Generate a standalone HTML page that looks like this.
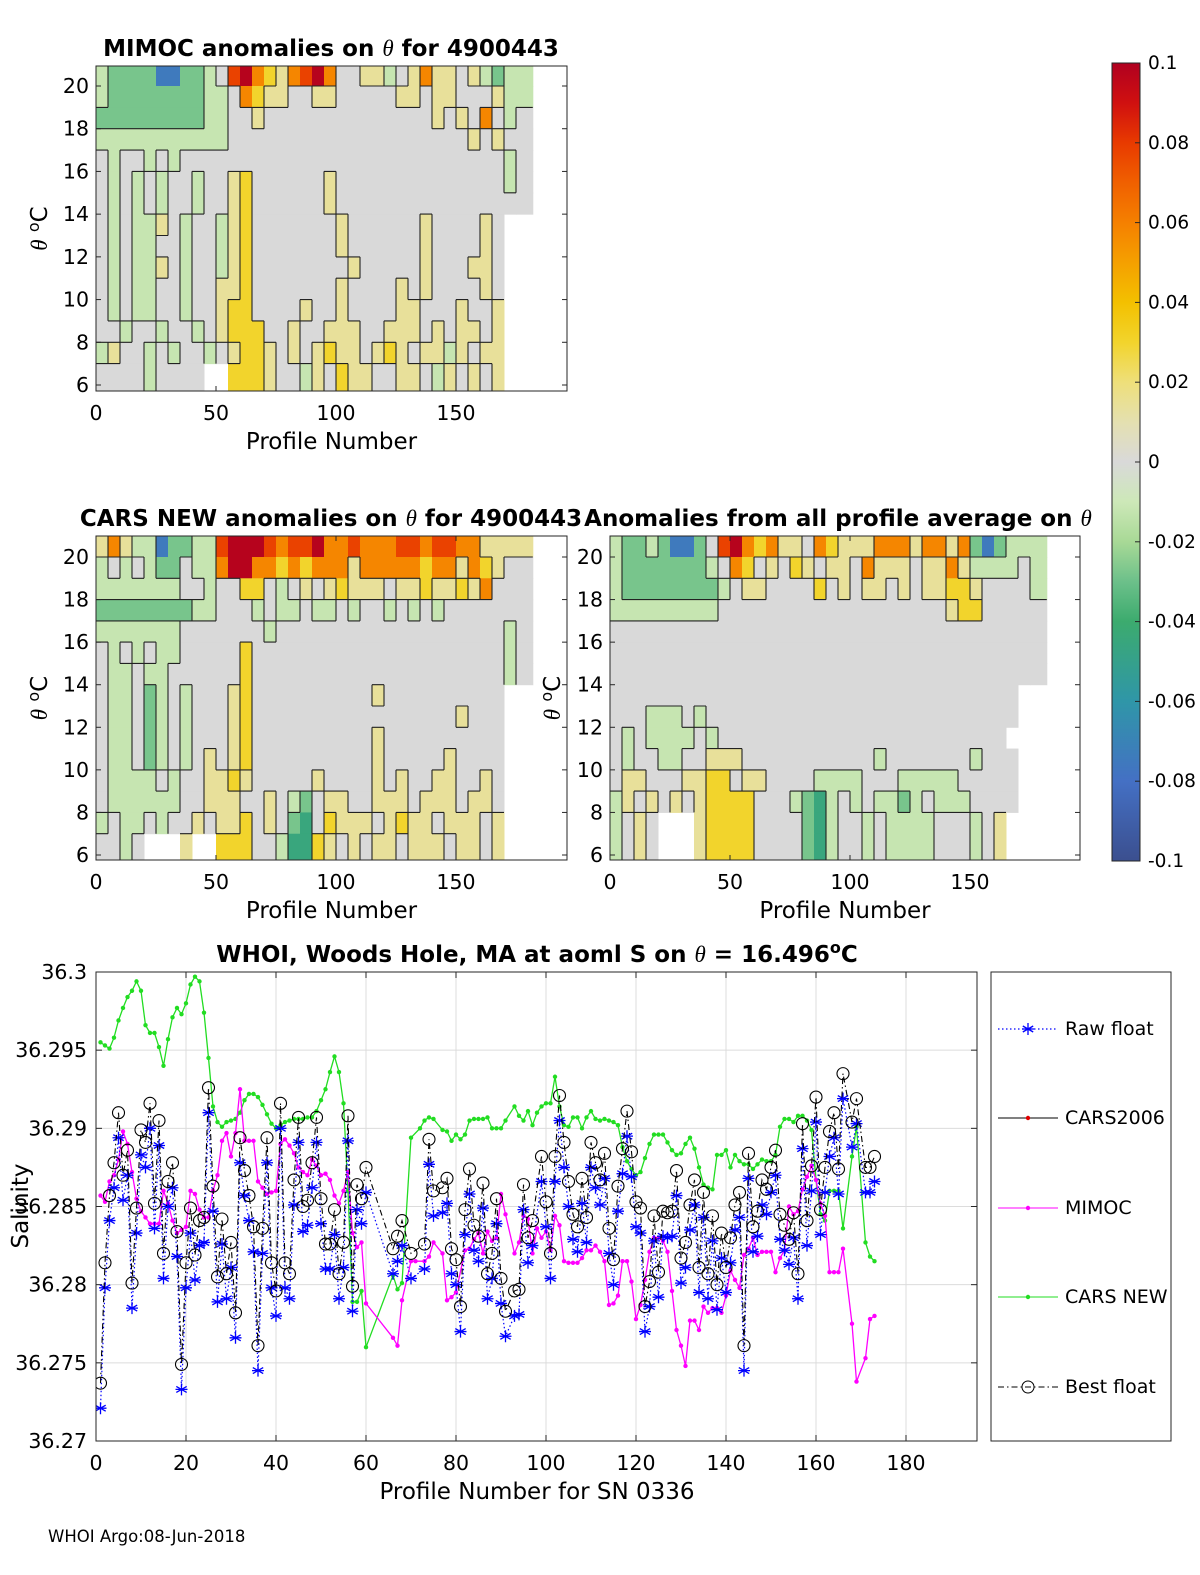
<!DOCTYPE html>
<html><head><meta charset="utf-8"><style>
body{margin:0;background:#fff}
svg{display:block;font-family:"DejaVu Sans","Liberation Sans",sans-serif}
</style></head><body>
<svg id="fig" width="1200" height="1575" viewBox="0 0 1200 1575" xmlns="http://www.w3.org/2000/svg">
<defs>
<linearGradient id="cbar" x1="0" y1="1" x2="0" y2="0">
<stop offset="0" stop-color="#3b4f8f"/><stop offset="0.1" stop-color="#4470c4"/><stop offset="0.2" stop-color="#2f96a8"/><stop offset="0.3" stop-color="#3cab6e"/><stop offset="0.35" stop-color="#6cc08a"/><stop offset="0.4" stop-color="#a8d996"/><stop offset="0.45" stop-color="#cde8b8"/><stop offset="0.5" stop-color="#d9d9d9"/><stop offset="0.55" stop-color="#e4e0b0"/><stop offset="0.6" stop-color="#eedf7a"/><stop offset="0.65" stop-color="#f2d42c"/><stop offset="0.7" stop-color="#f3c000"/><stop offset="0.75" stop-color="#f5a000"/><stop offset="0.8" stop-color="#f58000"/><stop offset="0.85" stop-color="#f06000"/><stop offset="0.9" stop-color="#e83a00"/><stop offset="0.95" stop-color="#d01010"/><stop offset="1" stop-color="#b00020"/>
</linearGradient>
<clipPath id="c1"><rect x="96" y="66" width="471" height="325"/></clipPath>
<clipPath id="c2"><rect x="96" y="536" width="471" height="324"/></clipPath>
<clipPath id="c3"><rect x="610" y="536" width="470" height="324"/></clipPath>
<clipPath id="c4"><rect x="96" y="972" width="881" height="469"/></clipPath>
</defs>
<g id="layer"></g>
</svg>
<script>
// ---------- heatmap data (rows: theta 21->6 in 1°C bands; cols: 5-profile bins) ----------
const levelCodes = ['.', '0', 'l', 'g', 'G', 'B', 'y', 'Y', 'o', 'r', 'R'];
const levelValues = [null, 0, -0.012, -0.028, -0.045, -0.075, 0.014, 0.03, 0.058, 0.078, 0.098];
const mimocRows = [
"lggggBBggl0rRoYyorRo00yyl0yoyy0ylgll",
"lggggggggll0oYyy00yy00000yy0yy000yll",
"gggggggggll00y00000000000000y0y0o0l0",
"lllllllllll00000000000000000000y0y00",
"0l00l0l000000000000000000000000000l0",
"0l0l0l00l00yY000000y00000000000000l0",
"0l0l0l00l00yY000000y0000000000000000",
"0l0lly0l00lyY0000000y000000y0000y0..",
"0l0ll00l00lyY0000000y000000y0000y0..",
"0l0lly0l00lyY00000000y00000y000yy0..",
"0l0ll00l00yyY0000000y0000y0y0000y0..",
"0l0ll00l00yYY0000y00y0000yy000y00y..",
"00l00l00l0yYYY00y00yyy00yyy0y0yy0y..",
"ly00l0l00l0yYYy0y0yYyy0yYy0yyly0yy..",
"0000l0000..YYYy00ly0Yyy00yy0ly0y0y.."];
const carsRows = [
"yoyllBggllrRRRrorrRoorooorrorrooyyyy",
"l0l0lgg0lloRRooYoYoooyoooooYooyoYy00",
"lllllll00l00YY0l0y0yYyyy0yyYyyYyo000",
"ggggggggll000l0ll0ll0l00l0l0l0000000",
"lllllll0000000l0000000000000000000l0",
"0l0l0ll00000Y000000000000000000000l0",
"0ll0ll000000Y000000000000000000000l0",
"0ll0gl0l000yY0000000000y0000000000..",
"0ll0gl0l000yY00000000000000000y000..",
"0ll0gl0l000yY0000000000y0000000000..",
"0ll0gl0l0y0yY0000000000y00000y0000..",
"0llll0l00yyYy00000y0000y0y00yy00y0..",
"0llllll00yyy00y0lg0yy00yyy0yyy0yy0..",
"l0ll0l00y0yyY0y0gG0Yyyy0yYyy0yyy0y..",
"00l0...y..YYY00lGGYy0y0yy0yyy0yy0y.."];
const allAvgRows = [
"lgglgBBg0rRoYoyy0oYyyyoooyooyogBglll",
"lgggggggl0oY0y0Yy0yy0oyyy0yyoyllll0l",
"lggggggggl0yy0000Y0y0yy0y0yyYYy0000l",
"lllllllll0000000000000000000yYY00000",
"000000000000000000000000000000000000",
"000000000000000000000000000000000000",
"000000000000000000000000000000000000",
"0000000000000000000000000000000000..",
"000lll0l00000000000000000000000000..",
"0l0llll0l000000000000000000000000...",
"0l00ll00yyy00000000000l0000000l000..",
"0yy000yyYY0yy0000llll000lllll00000..",
"ly0y0y0yYYYY000lgGl0l0llgl0lll0000..",
"l0y0...yYYYY0000gGl00l0llll000l0y...",
"l0y0...yYYYY0000gGl00l0llll000l0y..."];

// ---------- salinity series ----------
const floatProfiles = [1,2,3,4,5,6,7,8,9,10,11,12,13,14,15,16,17,18,19,20,21,22,23,24,25,26,27,28,29,30,31,32,33,34,35,36,37,38,39,40,41,42,43,44,45,46,47,48,49,50,51,52,53,54,55,56,57,58,59,60,66,67,68,70,73,74,75,77,78,79,80,81,82,83,84,85,86,87,88,89,90,91,93,94,95,96,97,99,100,101,102,103,104,105,106,107,108,109,110,111,112,113,114,115,116,117,118,119,120,121,122,123,124,125,126,127,128,129,130,131,132,133,134,135,136,137,138,139,140,141,142,143,144,145,146,147,148,149,150,151,152,153,154,155,156,157,158,159,160,161,162,163,164,165,166,168,169,171,172,173];
const rawFloat = [36.2721,36.2798,36.2841,36.2862,36.2894,36.2854,36.2870,36.2785,36.2833,36.2883,36.2875,36.2900,36.2836,36.2889,36.2804,36.2850,36.2862,36.2818,36.2733,36.2798,36.2833,36.2803,36.2825,36.2827,36.2910,36.2847,36.2789,36.2826,36.2791,36.2811,36.2766,36.2878,36.2857,36.2841,36.2821,36.2745,36.2820,36.2878,36.2798,36.2780,36.2900,36.2798,36.2791,36.2851,36.2891,36.2834,36.2838,36.2862,36.2891,36.2839,36.2810,36.2810,36.2832,36.2791,36.2811,36.2892,36.2783,36.2848,36.2839,36.2859,36.2807,36.2815,36.2825,36.2804,36.2810,36.2877,36.2844,36.2846,36.2852,36.2807,36.2800,36.2770,36.2832,36.2858,36.2822,36.2815,36.2849,36.2791,36.2804,36.2839,36.2788,36.2767,36.2780,36.2781,36.2848,36.2814,36.2825,36.2866,36.2837,36.2804,36.2866,36.2905,36.2875,36.2850,36.2829,36.2821,36.2852,36.2827,36.2875,36.2862,36.2851,36.2868,36.2820,36.2800,36.2847,36.2871,36.2895,36.2869,36.2837,36.2833,36.2770,36.2786,36.2828,36.2792,36.2831,36.2830,36.2831,36.2857,36.2801,36.2811,36.2835,36.2851,36.2795,36.2843,36.2791,36.2828,36.2784,36.2817,36.2795,36.2814,36.2835,36.2843,36.2745,36.2868,36.2821,36.2831,36.2851,36.2845,36.2859,36.2870,36.2829,36.2822,36.2813,36.2830,36.2791,36.2887,36.2825,36.2860,36.2904,36.2832,36.2859,36.2882,36.2894,36.2858,36.2919,36.2888,36.2903,36.2859,36.2859,36.2866];
const bestFloat = [36.2737,36.2814,36.2857,36.2878,36.2910,36.2870,36.2886,36.2801,36.2849,36.2899,36.2891,36.2916,36.2852,36.2905,36.2820,36.2866,36.2878,36.2834,36.2749,36.2814,36.2849,36.2819,36.2841,36.2843,36.2926,36.2863,36.2805,36.2842,36.2807,36.2827,36.2782,36.2894,36.2873,36.2857,36.2837,36.2761,36.2836,36.2894,36.2814,36.2796,36.2916,36.2814,36.2807,36.2867,36.2907,36.2850,36.2854,36.2878,36.2907,36.2855,36.2826,36.2826,36.2848,36.2807,36.2827,36.2908,36.2799,36.2864,36.2855,36.2875,36.2823,36.2831,36.2841,36.2820,36.2826,36.2893,36.2860,36.2862,36.2868,36.2823,36.2816,36.2786,36.2848,36.2874,36.2838,36.2831,36.2865,36.2807,36.2820,36.2855,36.2804,36.2783,36.2796,36.2797,36.2864,36.2830,36.2841,36.2882,36.2853,36.2820,36.2882,36.2921,36.2891,36.2866,36.2845,36.2837,36.2868,36.2843,36.2891,36.2878,36.2867,36.2884,36.2836,36.2816,36.2863,36.2887,36.2911,36.2885,36.2853,36.2849,36.2786,36.2802,36.2844,36.2808,36.2847,36.2846,36.2847,36.2873,36.2817,36.2827,36.2851,36.2867,36.2811,36.2859,36.2807,36.2844,36.2800,36.2833,36.2811,36.2830,36.2851,36.2859,36.2761,36.2884,36.2837,36.2847,36.2867,36.2861,36.2875,36.2886,36.2845,36.2838,36.2829,36.2846,36.2807,36.2903,36.2841,36.2876,36.2920,36.2848,36.2875,36.2898,36.2910,36.2874,36.2935,36.2904,36.2919,36.2875,36.2875,36.2882];
const mimocProfiles = [1,2,3,4,5,6,7,8,9,10,11,12,13,14,15,16,17,18,19,20,21,22,23,24,25,26,27,28,29,30,31,32,33,34,35,36,37,38,39,40,41,42,43,44,45,46,47,48,49,50,51,52,53,54,55,56,57,58,59,60,66,67,68,70,71,73,74,75,77,78,79,80,82,83,84,85,86,87,88,89,90,91,93,94,95,96,97,98,99,100,101,102,103,104,105,106,107,108,109,110,111,112,113,114,115,116,117,118,119,120,121,122,123,124,125,126,127,128,129,130,131,132,133,134,135,136,137,138,139,140,141,142,143,144,145,146,147,148,149,150,151,152,153,154,155,156,157,158,159,160,161,162,163,164,165,166,168,169,171,172,173];
const mimocValues = [36.2857,36.2853,36.2866,36.2870,36.2880,36.2898,36.2890,36.2872,36.2855,36.2847,36.2843,36.2839,36.2839,36.2839,36.2860,36.2852,36.2841,36.2833,36.2835,36.2837,36.2860,36.2858,36.2848,36.2843,36.2843,36.2860,36.2870,36.2892,36.2897,36.2882,36.2897,36.2925,36.2892,36.2892,36.2892,36.2866,36.2862,36.2858,36.2859,36.2860,36.2890,36.2893,36.2889,36.2884,36.2875,36.2872,36.2870,36.2880,36.2876,36.2870,36.2871,36.2867,36.2857,36.2852,36.2860,36.2872,36.2833,36.2824,36.2827,36.2788,36.2766,36.2761,36.2790,36.2815,36.2815,36.2815,36.2818,36.2827,36.2820,36.2790,36.2792,36.2795,36.2822,36.2823,36.2829,36.2833,36.2820,36.2834,36.2828,36.2830,36.2858,36.2845,36.2820,36.2827,36.2844,36.2842,36.2820,36.2836,36.2830,36.2834,36.2822,36.2844,36.2838,36.2815,36.2814,36.2814,36.2814,36.2817,36.2822,36.2822,36.2825,36.2821,36.2815,36.2787,36.2788,36.2793,36.2815,36.2815,36.2802,36.2778,36.2787,36.2803,36.2821,36.2830,36.2830,36.2828,36.2821,36.2796,36.2771,36.2761,36.2748,36.2777,36.2777,36.2771,36.2786,36.2782,36.2785,36.2785,36.2782,36.2793,36.2809,36.2803,36.2798,36.2819,36.2823,36.2830,36.2819,36.2821,36.2821,36.2821,36.2808,36.2817,36.2822,36.2850,36.2845,36.2847,36.2861,36.2869,36.2876,36.2867,36.2852,36.2844,36.2808,36.2808,36.2808,36.2823,36.2775,36.2738,36.2753,36.2778,36.2780];
const carsNewProfiles = [1,2,3,4,5,6,7,8,9,10,11,12,13,14,15,16,17,18,19,20,21,22,23,24,25,26,27,28,29,30,31,32,33,34,35,36,37,38,39,40,41,42,43,44,45,46,47,48,49,50,51,52,53,54,55,56,57,58,59,60,66,67,68,70,72,73,74,75,77,78,79,80,81,82,83,84,85,86,87,88,89,90,91,93,94,95,96,97,98,99,100,101,102,103,104,105,106,107,108,109,110,111,112,113,114,115,116,117,118,119,120,121,122,123,124,125,126,127,128,129,130,131,132,133,134,135,136,137,138,139,140,141,142,143,144,145,146,147,148,149,150,151,152,153,154,155,156,157,158,159,160,161,162,163,164,165,166,168,169,171,172,173];
const carsNewValues = [36.2955,36.2953,36.2951,36.2958,36.2969,36.2977,36.2984,36.2988,36.2994,36.2988,36.2966,36.2961,36.2961,36.2952,36.2940,36.2957,36.2971,36.2977,36.2973,36.2980,36.2992,36.2997,36.2994,36.2974,36.2945,36.2914,36.2904,36.2901,36.2904,36.2905,36.2906,36.2910,36.2918,36.2922,36.2922,36.2920,36.2915,36.2909,36.2903,36.2900,36.2902,36.2904,36.2905,36.2906,36.2906,36.2906,36.2907,36.2907,36.2911,36.2918,36.2925,36.2936,36.2946,36.2936,36.2916,36.2860,36.2789,36.2789,36.2796,36.2760,36.2806,36.2797,36.2801,36.2894,36.2900,36.2905,36.2907,36.2906,36.2899,36.2898,36.2892,36.2896,36.2893,36.2896,36.2905,36.2906,36.2906,36.2906,36.2907,36.2900,36.2900,36.2900,36.2905,36.2914,36.2908,36.2905,36.2911,36.2902,36.2910,36.2914,36.2916,36.2916,36.2933,36.2914,36.2902,36.2901,36.2907,36.2907,36.2900,36.2907,36.2911,36.2906,36.2905,36.2906,36.2905,36.2904,36.2902,36.2888,36.2879,36.2874,36.2870,36.2872,36.2881,36.2890,36.2896,36.2896,36.2896,36.2891,36.2886,36.2883,36.2884,36.2890,36.2894,36.2887,36.2875,36.2864,36.2862,36.2861,36.2883,36.2883,36.2886,36.2875,36.2883,36.2879,36.2877,36.2877,36.2874,36.2877,36.2880,36.2879,36.2879,36.2883,36.2901,36.2906,36.2906,36.2904,36.2908,36.2908,36.2905,36.2899,36.2867,36.2845,36.2841,36.2860,36.2860,36.2860,36.2836,36.2882,36.2901,36.2827,36.2818,36.2815];
const salTicks = [36.27,36.275,36.28,36.285,36.29,36.295,36.3];
const salTickLabels = ["36.27","36.275","36.28","36.285","36.29","36.295","36.3"];
const profTicks = [0,20,40,60,80,100,120,140,160,180];
const thetaTicks = [6,8,10,12,14,16,18,20];
const heatXTicks = [0,50,100,150];
const cbarTicks = [0.1,0.08,0.06,0.04,0.02,0,-0.02,-0.04,-0.06,-0.08,-0.1];
const cbarTickLabels = ["0.1","0.08","0.06","0.04","0.02","0","-0.02","-0.04","-0.06","-0.08","-0.1"];

const NS = "http://www.w3.org/2000/svg";
const layer = document.getElementById('layer');
function mk(tag, attrs, parent) {
  const e = document.createElementNS(NS, tag);
  for (const k in attrs) e.setAttribute(k, attrs[k]);
  (parent || layer).appendChild(e);
  return e;
}
function txt(s, x, y, size, anchor, weight, parent) {
  const t = mk('text', {x: x, y: y, 'font-size': size, 'text-anchor': anchor || 'middle', 'font-weight': weight || 'normal', fill: '#000'}, parent);
  t.textContent = s;
  return t;
}
const cStops = [[-0.1,[59,79,143]],[-0.08,[68,112,196]],[-0.06,[47,150,168]],[-0.04,[60,171,110]],[-0.03,[108,192,138]],[-0.02,[168,217,150]],[-0.01,[205,232,184]],[0,[217,217,217]],[0.01,[228,224,176]],[0.02,[238,223,122]],[0.03,[242,212,44]],[0.04,[243,192,0]],[0.05,[245,160,0]],[0.06,[245,128,0]],[0.07,[240,96,0]],[0.08,[232,58,0]],[0.09,[208,16,16]],[0.1,[176,0,32]]];
function cmap(v) {
  v = Math.max(-0.1, Math.min(0.1, v));
  for (let i = 0; i < cStops.length - 1; i++) {
    const a = cStops[i], b = cStops[i+1];
    if (v >= a[0] && v <= b[0]) {
      const t = (v - a[0]) / (b[0] - a[0]);
      const c = a[1].map((x, j) => Math.round(x + t * (b[1][j] - x)));
      return 'rgb(' + c.join(',') + ')';
    }
  }
  return '#d9d9d9';
}
function cls(v) { if (v === null || v === undefined) return null; return v >= 0.02 ? 2 : v > 0.005 ? 1 : v < -0.02 ? -2 : v < -0.005 ? -1 : 0; }

function heatPanel(cfg) {
  const g = mk('g', {});
  
  
  const xS = p => cfg.x0 + p * cfg.pxPerProf;
  const yS = t => cfg.y20 + (20 - t) * (cfg.y6 - cfg.y20) / 14;
  const cells = mk('g', {'clip-path': 'url(#' + cfg.clip + ')'}, g);
  const vals = cfg.rows.map(row => { const a = []; for (let c = 0; c < 36; c++) a.push(levelValues[levelCodes.indexOf(row[c] || '.')]); return a; });
  const bounds = i => [21 - i, (i === cfg.rows.length - 1) ? 5.6 : 20 - i];
  const colB = c => [c * 5, (c === 35) ? 182 : c * 5 + 5];
  vals.forEach((row, i) => {
    const [tHi, tLo] = bounds(i);
    row.forEach((v, c) => {
      if (v === null || v === undefined) return;
      const [p0, p1] = colB(c);
      const r = mk('rect', {x: xS(p0), y: yS(tHi), width: xS(p1) - xS(p0) + 0.5, height: yS(tLo) - yS(tHi) + 0.5, fill: cmap(v)}, cells);
      
      
    });
  });
  // pseudo contour lines along class boundaries
  let d = '';
  vals.forEach((row, i) => {
    const [tHi, tLo] = bounds(i);
    row.forEach((v, c) => {
      const k = cls(v); if (k === null) return;
      const [p0, p1] = colB(c);
      const kr = cls(row[c + 1]);
      if (kr !== null && kr !== k && c < 35) d += 'M' + xS(p1).toFixed(1) + ',' + yS(tHi).toFixed(1) + 'V' + yS(tLo).toFixed(1);
      if (i + 1 < vals.length) {
        const kb = cls(vals[i + 1][c]);
        if (kb !== null && kb !== k) d += 'M' + xS(p0).toFixed(1) + ',' + yS(tLo).toFixed(1) + 'H' + xS(p1).toFixed(1);
      }
    });
  });
  const cont = mk('path', {d: d, fill: 'none', stroke: '#222', 'stroke-width': 1.1}, cells);
  
  
  const box = mk('rect', {x: cfg.x0, y: cfg.top, width: cfg.w, height: cfg.h, fill: 'none', stroke: '#262626', 'stroke-width': 1}, g);
  
  
  thetaTicks.forEach(t => {
    const y = yS(t);
    mk('line', {x1: cfg.x0, x2: cfg.x0 + 5, y1: y, y2: y, stroke: '#262626'}, g);
    mk('line', {x1: cfg.x0 + cfg.w - 5, x2: cfg.x0 + cfg.w, y1: y, y2: y, stroke: '#262626'}, g);
    const l = txt(String(t), cfg.x0 - 7, y + 7, 20.5, 'end', 'normal', g);
    
    
  });
  heatXTicks.forEach(p => {
    const x = xS(p);
    mk('line', {x1: x, x2: x, y1: cfg.top + cfg.h, y2: cfg.top + cfg.h - 5, stroke: '#262626'}, g);
    mk('line', {x1: x, x2: x, y1: cfg.top, y2: cfg.top + 5, stroke: '#262626'}, g);
    const l = txt(String(p), x, cfg.top + cfg.h + 29, 20.5, 'middle', 'normal', g);
    
    
  });
  const xl = txt('Profile Number', cfg.x0 + cfg.w / 2, cfg.top + cfg.h + 58, 23, 'middle', 'normal', g);
  
  
  if (cfg.ylab) {
    const yl = mk('text', {transform: 'translate(' + cfg.ylab + ',' + (cfg.top + cfg.h / 2) + ') rotate(-90)', 'font-size': 23, 'text-anchor': 'middle'}, g);
    yl.innerHTML = '<tspan font-family="Liberation Serif, serif" font-style="italic">θ</tspan> <tspan dy="-8" font-size="16">o</tspan><tspan dy="8">C</tspan>';
    
    
  }
  const tt = mk('text', {x: cfg.titleX, y: cfg.top - 10, 'font-size': 23, 'font-weight': 'bold', 'text-anchor': 'middle'}, g);
  tt.innerHTML = cfg.title;
  
  
}
const TH = '<tspan font-family="Liberation Serif, serif" font-style="italic" font-weight="normal">θ</tspan>';
heatPanel({name: 'mimoc-anomaly-panel', rows: mimocRows, x0: 96, top: 66, w: 471, h: 325, y20: 86, y6: 385, pxPerProf: 2.4, clip: 'c1', ylab: 47, titleX: 331, title: 'MIMOC anomalies on ' + TH + '  for 4900443'});
heatPanel({name: 'cars-new-anomaly-panel', rows: carsRows, x0: 96, top: 536, w: 471, h: 324, y20: 557, y6: 855, pxPerProf: 2.4, clip: 'c2', ylab: 47, titleX: 331, title: 'CARS NEW anomalies on ' + TH + ' for 4900443'});
heatPanel({name: 'profile-average-anomaly-panel', rows: allAvgRows, x0: 610, top: 536, w: 470, h: 324, y20: 557, y6: 855, pxPerProf: 2.4, clip: 'c3', ylab: 560, titleX: 838, title: 'Anomalies from all profile average on ' + TH});

// colorbar
const cb = mk('g', {});


mk('rect', {x: 1112, y: 63, width: 28, height: 798, fill: 'url(#cbar)', stroke: '#262626'}, cb);
cbarTicks.forEach((v, i) => {
  const y = 63 + (0.1 - v) / 0.2 * 798;
  mk('line', {x1: 1135, x2: 1140, y1: y, y2: y, stroke: '#262626'}, cb);
  const l = txt(cbarTickLabels[i], 1148, y + 6, 18.5, 'start', 'normal', cb);
  
  
});

// ---------- salinity line chart ----------
const X0 = 96, Y0 = 972, W = 881, H = 469;
const xP = p => X0 + p * 4.5;
const yV = v => Y0 + (36.3 - v) / 0.03 * H;
const ch = mk('g', {});


mk('rect', {x: X0, y: Y0, width: W, height: H, fill: '#fff'}, ch);
profTicks.forEach(p => {
  const x = xP(p);
  const gl = mk('line', {x1: x, x2: x, y1: Y0, y2: Y0 + H, stroke: '#dcdcdc'}, ch);
  
  
  mk('line', {x1: x, x2: x, y1: Y0 + H, y2: Y0 + H - 6, stroke: '#262626'}, ch);
  mk('line', {x1: x, x2: x, y1: Y0, y2: Y0 + 6, stroke: '#262626'}, ch);
  const l = txt(String(p), x, Y0 + H + 29, 20.5, 'middle', 'normal', ch);
  
  
});
salTicks.forEach((v, i) => {
  const y = yV(v);
  const gl = mk('line', {x1: X0, x2: X0 + W, y1: y, y2: y, stroke: '#dcdcdc'}, ch);
  
  
  mk('line', {x1: X0, x2: X0 + 6, y1: y, y2: y, stroke: '#262626'}, ch);
  mk('line', {x1: X0 + W - 6, x2: X0 + W, y1: y, y2: y, stroke: '#262626'}, ch);
  const l = txt(salTickLabels[i], 87, y + 7, 20.5, 'end', 'normal', ch);
  
  
});
const plot = mk('g', {'clip-path': 'url(#c4)'}, ch);
function pathOf(ps, vs) { return ps.map((p, i) => (i ? 'L' : 'M') + xP(p).toFixed(1) + ',' + yV(vs[i]).toFixed(1)).join(''); }

const gCars = mk('g', {}, plot);


mk('path', {d: pathOf(carsNewProfiles, carsNewValues), fill: 'none', stroke: '#22dd22', 'stroke-width': 1.3}, gCars);
carsNewProfiles.forEach((p, i) => mk('circle', {cx: xP(p), cy: yV(carsNewValues[i]), r: 2.2, fill: '#22dd22'}, gCars));

const gMim = mk('g', {}, plot);


mk('path', {d: pathOf(mimocProfiles, mimocValues), fill: 'none', stroke: '#ff00ff', 'stroke-width': 1.3}, gMim);
mimocProfiles.forEach((p, i) => mk('circle', {cx: xP(p), cy: yV(mimocValues[i]), r: 2.2, fill: '#ff00ff'}, gMim));

const gRaw = mk('g', {}, plot);


mk('path', {d: pathOf(floatProfiles, rawFloat), fill: 'none', stroke: '#0000ff', 'stroke-width': 1.2, 'stroke-dasharray': '1.5 2.5'}, gRaw);
function star(cx, cy, r, parent) {
  let d = '';
  for (let k = 0; k < 3; k++) {
    const a = k * Math.PI / 3 + Math.PI / 2;
    d += 'M' + (cx + r * Math.cos(a)).toFixed(1) + ',' + (cy + r * Math.sin(a)).toFixed(1) + 'L' + (cx - r * Math.cos(a)).toFixed(1) + ',' + (cy - r * Math.sin(a)).toFixed(1);
  }
  d += 'M' + (cx - r) + ',' + cy + 'L' + (cx + r) + ',' + cy;
  return mk('path', {d: d, stroke: '#0000ff', 'stroke-width': 1.3, fill: 'none'}, parent);
}
floatProfiles.forEach((p, i) => star(xP(p), yV(rawFloat[i]), 6, gRaw));

const gBest = mk('g', {}, plot);


mk('path', {d: pathOf(floatProfiles, bestFloat), fill: 'none', stroke: '#000', 'stroke-width': 1.1, 'stroke-dasharray': '6 3 1.5 3'}, gBest);
floatProfiles.forEach((p, i) => mk('circle', {cx: xP(p), cy: yV(bestFloat[i]), r: 6, fill: 'none', stroke: '#000', 'stroke-width': 1.1}, gBest));

mk('rect', {x: X0, y: Y0, width: W, height: H, fill: 'none', stroke: '#262626'}, ch);
const ct = mk('text', {x: 537, y: 962, 'font-size': 23, 'font-weight': 'bold', 'text-anchor': 'middle'}, ch);
ct.innerHTML = 'WHOI, Woods Hole, MA at aoml S on ' + TH + ' = 16.496<tspan dy="-9" font-size="16">o</tspan><tspan dy="9">C</tspan>';


const cx = txt('Profile Number for SN 0336', 537, 1499, 23, 'middle', 'normal', ch);


const cy = mk('text', {transform: 'translate(28,1206) rotate(-90)', 'font-size': 23, 'text-anchor': 'middle'}, ch);
cy.textContent = 'Salinity';



// legend
const lg = mk('g', {});


mk('rect', {x: 991, y: 972, width: 180, height: 469, fill: '#fff', stroke: '#262626'}, lg);
const legendNames = ['Raw float', 'CARS2006', 'MIMOC', 'CARS NEW', 'Best float'];
const legendY = [1029, 1118, 1208, 1297, 1387];
legendNames.forEach((n, i) => {
  const y = legendY[i];
  const e = mk('g', {}, lg);
  
  
  if (i === 0) { mk('line', {x1: 998, x2: 1058, y1: y, y2: y, stroke: '#0000ff', 'stroke-dasharray': '1.5 2.5', 'stroke-width': 1.2}, e); star(1028, y, 6, e); }
  if (i === 1) { mk('line', {x1: 998, x2: 1058, y1: y, y2: y, stroke: '#000'}, e); mk('circle', {cx: 1028, cy: y, r: 2.2, fill: '#e00000'}, e); }
  if (i === 2) { mk('line', {x1: 998, x2: 1058, y1: y, y2: y, stroke: '#ff00ff'}, e); mk('circle', {cx: 1028, cy: y, r: 2.2, fill: '#ff00ff'}, e); }
  if (i === 3) { mk('line', {x1: 998, x2: 1058, y1: y, y2: y, stroke: '#22dd22'}, e); mk('circle', {cx: 1028, cy: y, r: 2.2, fill: '#22dd22'}, e); }
  if (i === 4) { mk('line', {x1: 998, x2: 1058, y1: y, y2: y, stroke: '#000', 'stroke-dasharray': '6 3 1.5 3'}, e); mk('circle', {cx: 1028, cy: y, r: 6, fill: 'none', stroke: '#000'}, e); }
  txt(n, 1065, y + 6, 19, 'start', 'normal', e);
});

const ft = txt('WHOI Argo:08-Jun-2018', 48, 1542, 16.5, 'start', 'normal');


</script>
</body></html>
